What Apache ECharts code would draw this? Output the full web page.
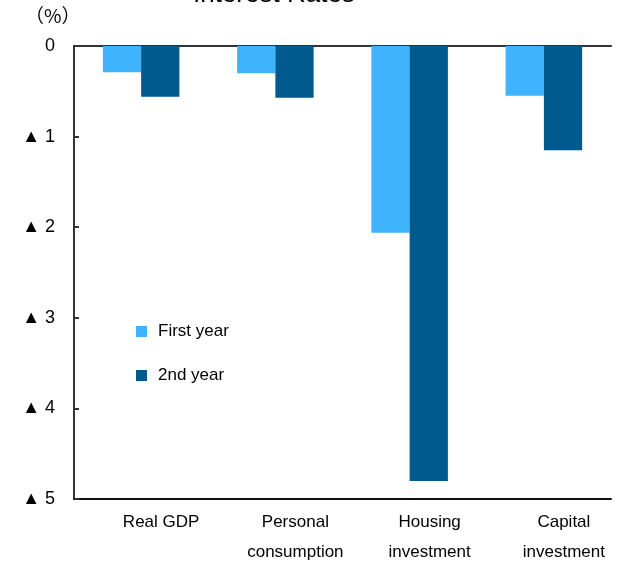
<!DOCTYPE html>
<html>
<head>
<meta charset="utf-8">
<script src="https://cdn.jsdelivr.net/npm/echarts@6/dist/echarts.min.js"></script>
<style>
  html, body { margin: 0; padding: 0; background: #fff; }
  #chart { width: 618px; height: 561px; }
</style>
</head>
<body>
<div id="chart"></div>
<script>
// categories and values (% deviation, negative)
var categories = ["Real GDP", "Personal\nconsumption", "Housing\ninvestment", "Capital\ninvestment"];
var firstYear = [-0.29, -0.30, -2.06, -0.55];
var secondYear = [-0.56, -0.57, -4.80, -1.15];

var font = "Liberation Sans, Arial, sans-serif";

var chart = echarts.init(document.getElementById("chart"));
var option = {
  animation: false,
  title: {
    text: "Interest Rates",
    left: 188,
    top: -23,
    textStyle: { fontFamily: font, fontSize: 26, fontWeight: "normal", color: "#000" }
  },
  graphic: [{
    type: "text",
    left: 25,
    top: 6,
    style: { text: "（%）", fontFamily: "Noto Sans CJK JP", fontSize: 19, fill: "#000" }
  }],
  legend: {
    orient: "vertical",
    left: 131,
    top: 318,
    itemWidth: 11,
    itemHeight: 11,
    itemGap: 27,
    icon: "rect",
    data: ["First year", "2nd year"],
    textStyle: { fontFamily: font, fontSize: 17, color: "#000", padding: [0, 0, 0, 6] }
  },
  grid: { left: 74, right: 7, top: 46, bottom: 62, outerBoundsMode: "none" },
  xAxis: [
    {
      type: "category",
      position: "top",
      data: categories,
      axisLine: { lineStyle: { color: "#333", width: 2 } },
      axisTick: { inside: true, length: 6, lineStyle: { color: "#333", width: 2 } },
      axisLabel: { show: false }
    },
    {
      type: "category",
      position: "bottom",
      data: categories,
      axisLine: { lineStyle: { color: "#111", width: 2 } },
      axisTick: { show: false },
      axisLabel: {
        interval: 0,
        margin: 8,
        padding: [0, 0, 0, 40],
        fontFamily: font,
        fontSize: 17,
        lineHeight: 30,
        color: "#000"
      }
    }
  ],
  yAxis: {
    type: "value",
    min: -5,
    max: 0,
    interval: 1,
    axisLine: { show: true, lineStyle: { color: "#333", width: 2 } },
    axisTick: { show: true, inside: true, length: 5, lineStyle: { color: "#333", width: 2 } },
    splitLine: { show: false },
    axisLabel: {
      margin: 19,
      fontFamily: font,
      fontSize: 18,
      color: "#000",
      formatter: function (v) {
        return v === 0 ? "0" : "▲ " + Math.abs(v);
      }
    }
  },
  series: [
    {
      name: "First year",
      type: "bar",
      xAxisIndex: 0,
      data: firstYear,
      barGap: "0%",
      barCategoryGap: "43%",
      itemStyle: { color: "#40b3ff" }
    },
    {
      name: "2nd year",
      type: "bar",
      xAxisIndex: 0,
      data: secondYear,
      itemStyle: { color: "#005a8e" }
    }
  ]
};
chart.setOption(option);
</script>
</body>
</html>
